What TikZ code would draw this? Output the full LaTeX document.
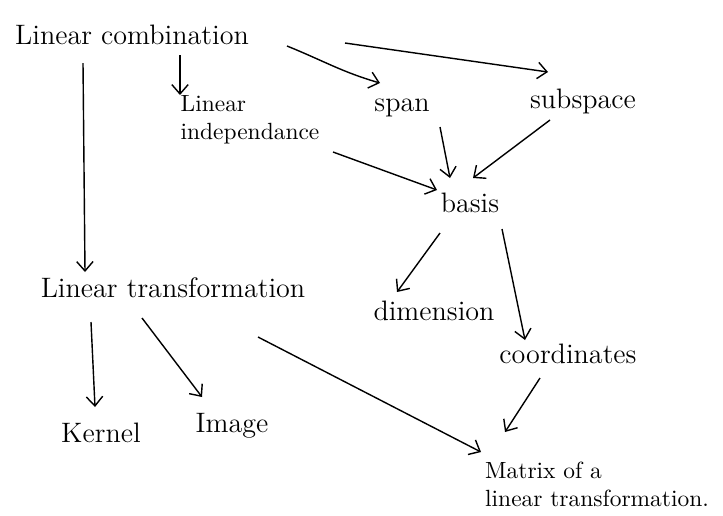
\documentclass[tikz,border=0pt]{standalone}
\usepackage{tikz}
\usetikzlibrary{arrows.meta, calc}
\tikzset{
  concept/.style={font=\large, inner sep=2pt},
  link/.style={-{Straight Barb[length=4pt, width=7pt]}, semithick},
}
\begin{document}
\begin{tikzpicture}[x=0.015cm, y=0.015cm]
  \useasboundingbox (0,0) rectangle (723,-515);

  %% Top row
  \node[concept] (lincomb) at (132,-35) {Linear combination};
  \node[concept, font=\normalsize, align=left] (linind) at (250,-120)
    {Linear\\independance};
  \node[concept] (span)     at (402,-108) {span};
  \node[concept] (subspace) at (583,-101) {subspace};
  \node[concept] (basis)    at (470,-203) {basis};

  %% Middle
  \node[concept] (lintrans)  at (173,-288) {Linear transformation};
  \node[concept] (dimension) at (434,-311) {dimension};
  \node[concept] (coords)    at (568,-354) {coordinates};

  %% Bottom row
  \node[concept] (kernel) at (101,-433) {Kernel};
  \node[concept] (image)  at (232,-426) {Image};
  \node[concept, font=\normalsize, align=left] (matrix) at (597,-484)
    {Matrix of a\\linear transformation.};

  %% Links from linear combination
  \draw[link] ($(lincomb)+(-49,-28)$) -- ($(lintrans)+(-88,16)$);
  \draw[link] ($(lincomb)+(48,-20)$)  -- ($(linind)+(-70,25)$);
  \draw[link] ($(lincomb)+(155,-11)$) to[out=-22, in=164] ($(span)+(-22,25)$);
  \draw[link] ($(lincomb)+(213,-8)$)  -- ($(subspace)+(-35,29)$);

  %% Into basis
  \draw[link] ($(linind)+(83,-32)$)    -- ($(basis)+(-33,13)$);
  \draw[link] ($(span)+(38,-19)$)      -- ($(basis)+(-20,25)$);
  \draw[link] ($(subspace)+(-33,-19)$) -- ($(basis)+(3,25)$);

  %% Out of basis
  \draw[link] ($(basis)+(-30,-30)$) -- ($(dimension)+(-37,19)$);
  \draw[link] ($(basis)+(32,-26)$)  -- ($(coords)+(-43,14)$);
  \draw[link] ($(coords)+(-28,-24)$) -- ($(matrix)+(-92,52)$);

  %% Out of linear transformation
  \draw[link] ($(lintrans)+(-82,-34)$) -- ($(kernel)+(-6,26)$);
  \draw[link] ($(lintrans)+(-31,-30)$) -- ($(image)+(-30,29)$);
  \draw[link] ($(lintrans)+(85,-49)$)  -- ($(matrix)+(-116,32)$);

\end{tikzpicture}
\end{document}
